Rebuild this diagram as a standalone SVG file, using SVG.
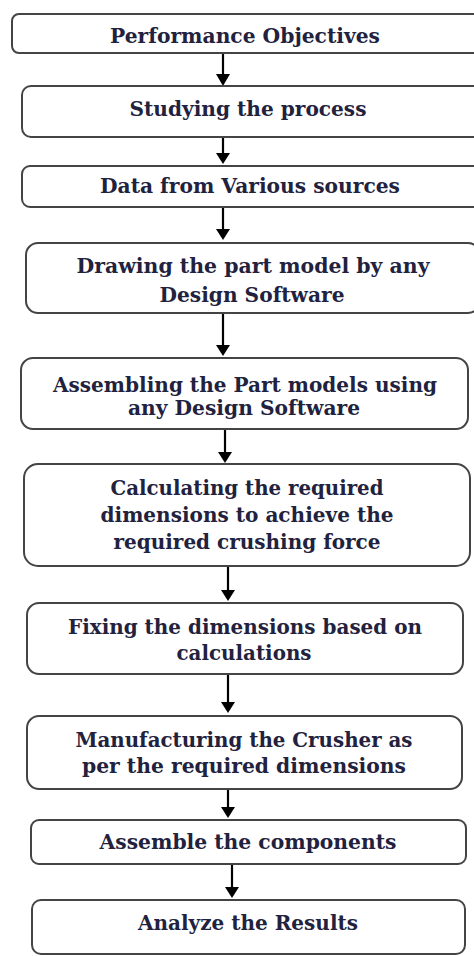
<svg xmlns="http://www.w3.org/2000/svg" width="474" height="956" viewBox="0 0 474 956">
<style>
.box{fill:#fff;stroke:#444;stroke-width:2}
.t{font-family:"DejaVu Serif","Liberation Serif",serif;font-weight:bold;font-size:19.5px;fill:#22223e;text-anchor:middle}
.ln{stroke:#000;stroke-width:2.2}
.hd{fill:#000}
</style>
<rect width="474" height="956" fill="#fff"/>
<g id="connectors">
<line class="ln" x1="223" y1="54" x2="223" y2="76"/><polygon class="hd" points="216,74 230,74 223,86"/>
<line class="ln" x1="223" y1="137" x2="223" y2="155"/><polygon class="hd" points="216,153 230,153 223,164"/>
<line class="ln" x1="223" y1="207" x2="223" y2="231"/><polygon class="hd" points="216,229 230,229 223,240"/>
<line class="ln" x1="223" y1="313" x2="223" y2="347"/><polygon class="hd" points="216,345 230,345 223,356"/>
<line class="ln" x1="225" y1="429" x2="225" y2="454"/><polygon class="hd" points="218,452 232,452 225,463"/>
<line class="ln" x1="228" y1="566" x2="228" y2="592"/><polygon class="hd" points="221,590 235,590 228,601"/>
<line class="ln" x1="228" y1="674" x2="228" y2="704"/><polygon class="hd" points="221,702 235,702 228,713"/>
<line class="ln" x1="228" y1="789" x2="228" y2="809"/><polygon class="hd" points="221,807 235,807 228,818"/>
<line class="ln" x1="232" y1="864" x2="232" y2="889"/><polygon class="hd" points="225,887 239,887 232,898"/>
</g>
<g id="n1"><rect class="box" x="12" y="14" width="470" height="39" rx="7"/><text class="t" x="245" y="43" textLength="270" lengthAdjust="spacingAndGlyphs">Performance Objectives</text></g>
<g id="n2"><rect class="box" x="22" y="86" width="460" height="51" rx="9"/><text class="t" x="248" y="116" textLength="237" lengthAdjust="spacingAndGlyphs">Studying the process</text></g>
<g id="n3"><rect class="box" x="22" y="166" width="460" height="41" rx="8"/><text class="t" x="250" y="193" textLength="300" lengthAdjust="spacingAndGlyphs">Data from Various sources</text></g>
<g id="n4"><rect class="box" x="26" y="243" width="454" height="70" rx="12"/><text class="t" x="253" y="273" textLength="353" lengthAdjust="spacingAndGlyphs">Drawing the part model by any</text><text class="t" x="252" y="302" textLength="185" lengthAdjust="spacingAndGlyphs">Design Software</text></g>
<g id="n5"><rect class="box" x="21" y="358" width="447" height="71" rx="12"/><text class="t" x="245" y="392" textLength="384" lengthAdjust="spacingAndGlyphs">Assembling the Part models using</text><text class="t" x="244" y="415" textLength="232" lengthAdjust="spacingAndGlyphs">any Design Software</text></g>
<g id="n6"><rect class="box" x="24" y="464" width="446" height="102" rx="14"/><text class="t" x="247" y="495" textLength="273" lengthAdjust="spacingAndGlyphs">Calculating the required</text><text class="t" x="247" y="522" textLength="293" lengthAdjust="spacingAndGlyphs">dimensions to achieve the</text><text class="t" x="247" y="549" textLength="267" lengthAdjust="spacingAndGlyphs">required crushing force</text></g>
<g id="n7"><rect class="box" x="27" y="603" width="436" height="71" rx="12"/><text class="t" x="245" y="634" textLength="354" lengthAdjust="spacingAndGlyphs">Fixing the dimensions based on</text><text class="t" x="244" y="660" textLength="135" lengthAdjust="spacingAndGlyphs">calculations</text></g>
<g id="n8"><rect class="box" x="27" y="716" width="435" height="73" rx="12"/><text class="t" x="244" y="747" textLength="337" lengthAdjust="spacingAndGlyphs">Manufacturing the Crusher as</text><text class="t" x="244" y="773" textLength="324" lengthAdjust="spacingAndGlyphs">per the required dimensions</text></g>
<g id="n9"><rect class="box" x="31" y="820" width="435" height="44" rx="8"/><text class="t" x="248" y="849" textLength="297" lengthAdjust="spacingAndGlyphs">Assemble the components</text></g>
<g id="n10"><rect class="box" x="32" y="900" width="433" height="54" rx="9"/><text class="t" x="248" y="930" textLength="220" lengthAdjust="spacingAndGlyphs">Analyze the Results</text></g>
</svg>
